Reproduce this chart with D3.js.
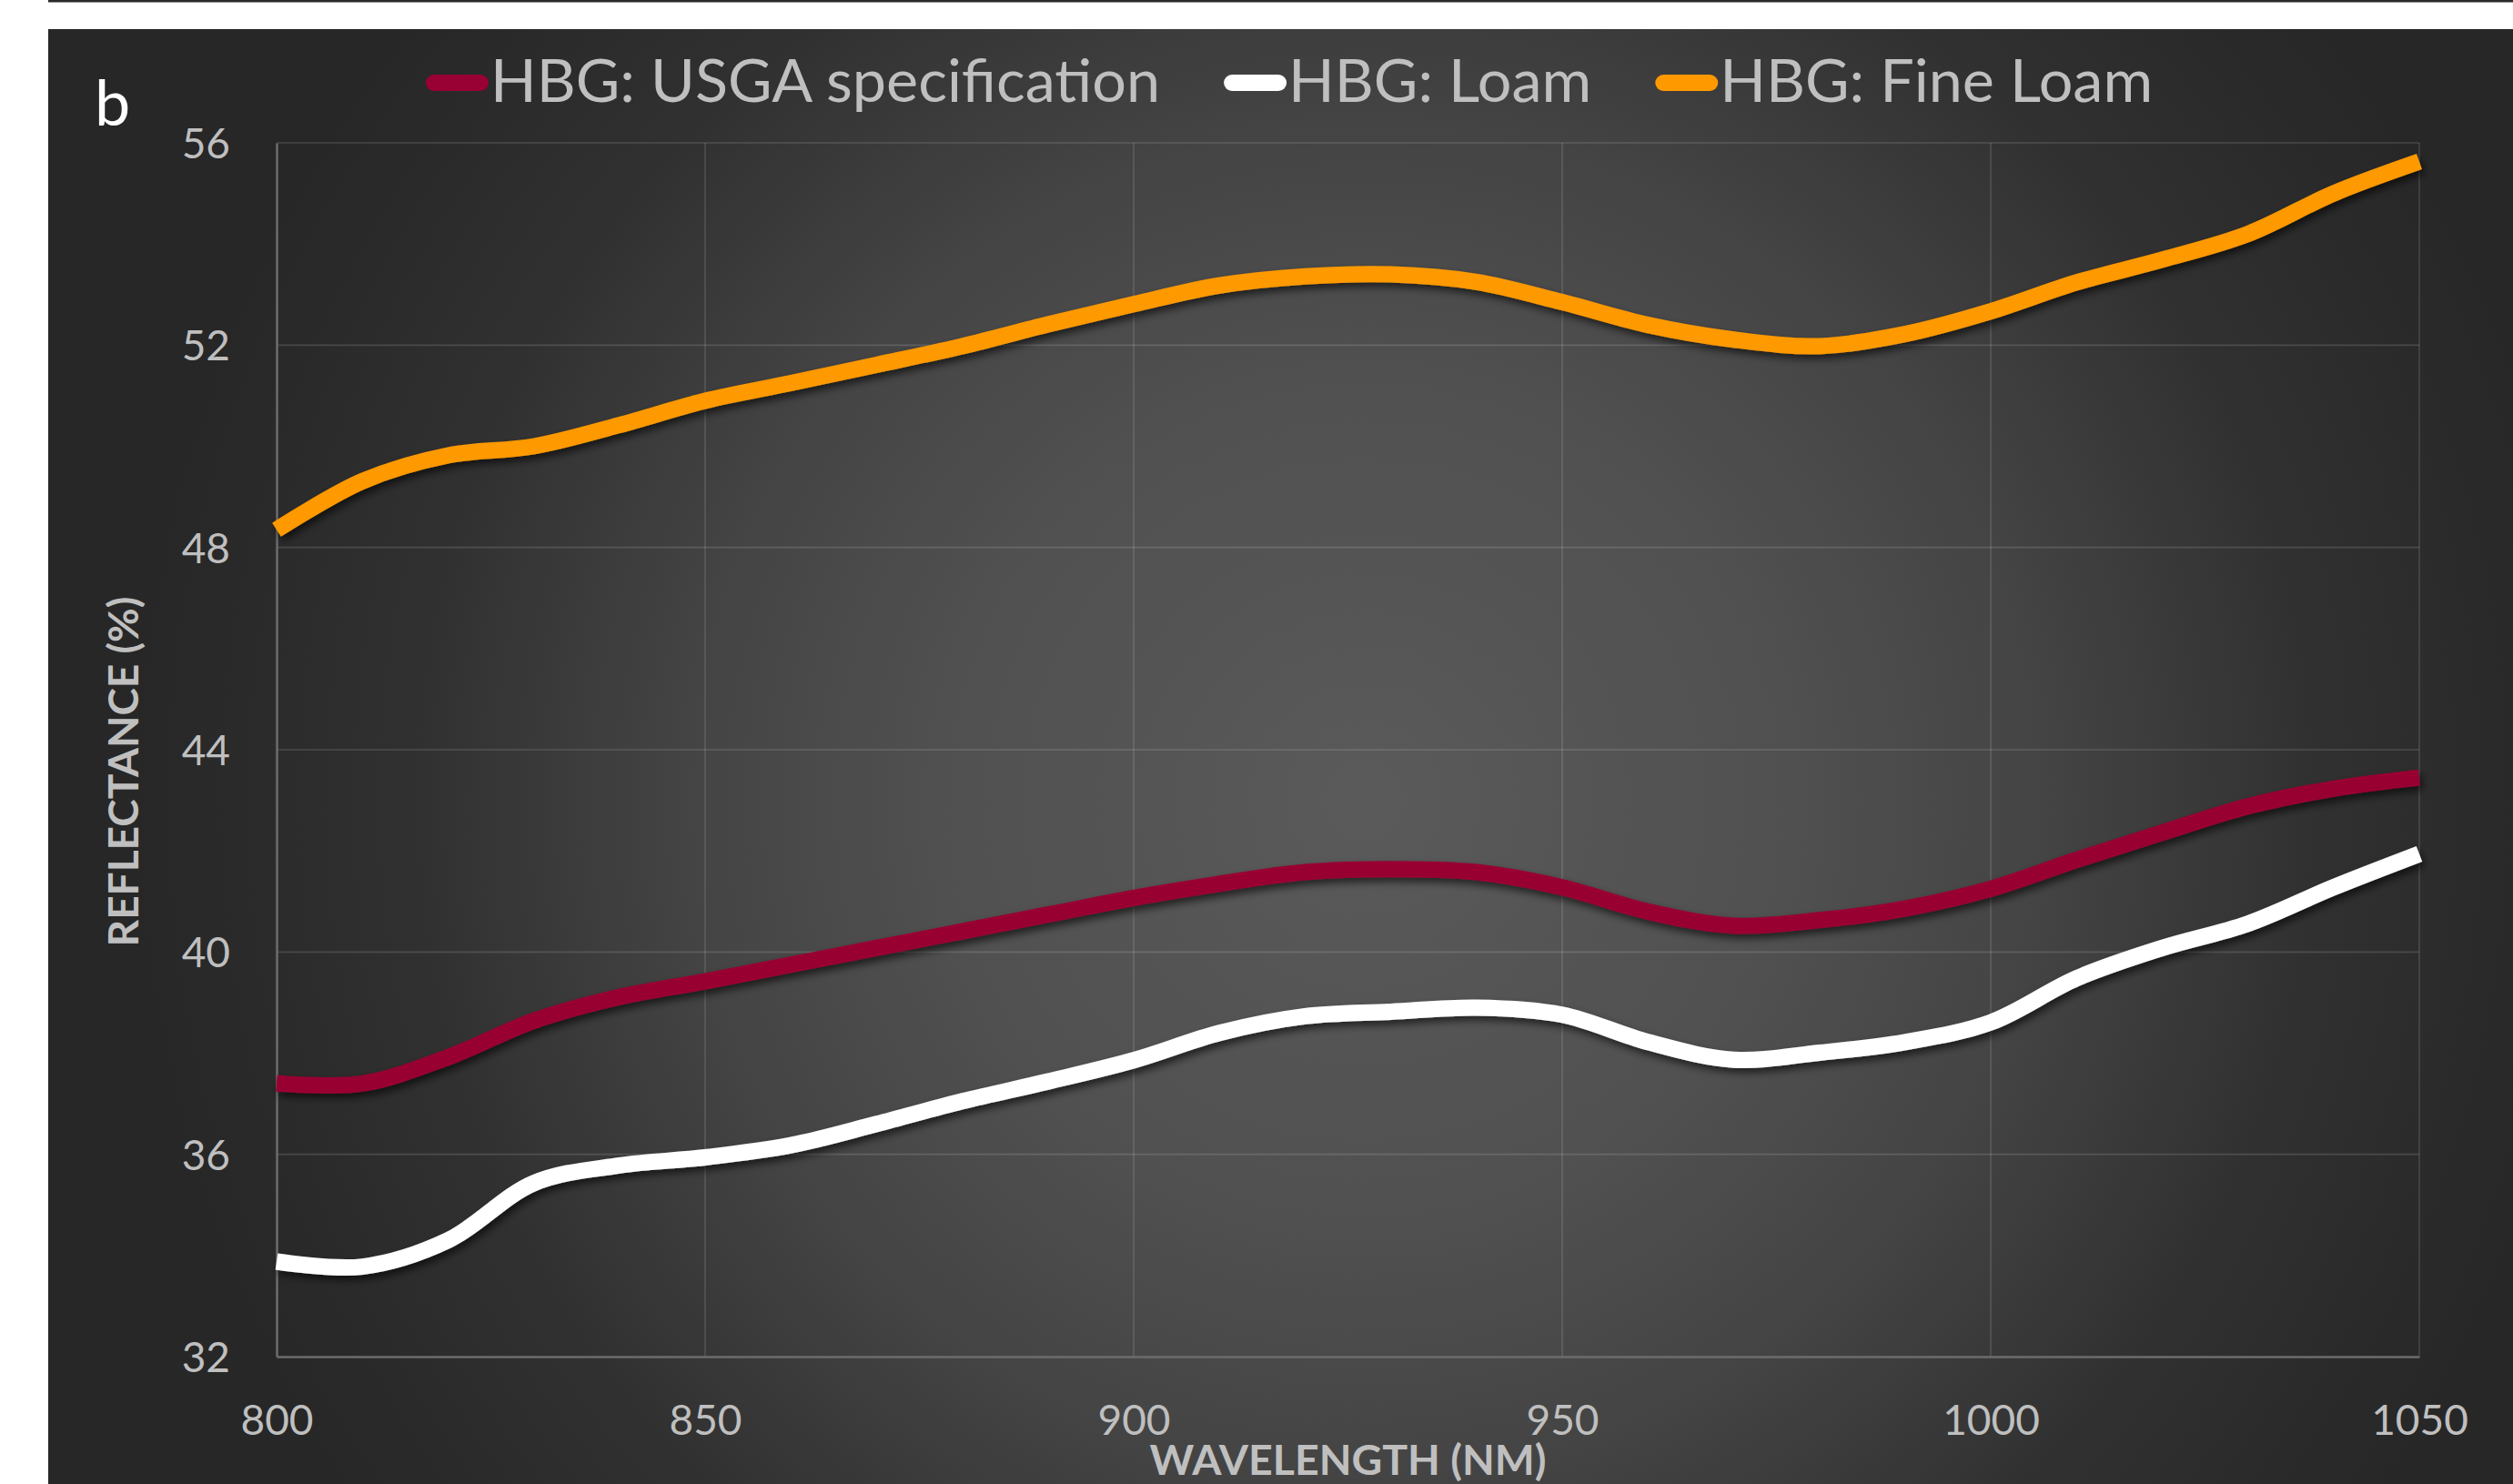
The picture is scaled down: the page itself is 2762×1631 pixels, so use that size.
<!DOCTYPE html>
<html>
<head>
<meta charset="utf-8">
<script src="https://cdn.jsdelivr.net/npm/d3@7"></script>
<style>
  html, body { margin: 0; padding: 0; background: #ffffff; }
  svg { display: block; }
</style>
</head>
<body>
<svg id="chart" width="2762" height="1631"></svg>
<script>
// Reflectance spectra (%) of three root-zone mixes, 800–1050 nm
const wavelengths = [800, 810, 820, 830, 840, 850, 860, 870, 880, 890, 900, 910, 920,
                     930, 940, 950, 960, 970, 980, 990, 1000, 1010, 1020, 1030, 1040, 1050];
const usgaSpec = [37.40, 37.40, 37.92, 38.64, 39.11, 39.42, 39.75, 40.08, 40.41, 40.74, 41.07, 41.35, 41.58,
                  41.64, 41.58, 41.28, 40.80, 40.52, 40.63, 40.86, 41.25, 41.82, 42.36, 42.88, 43.23, 43.45];
const loam     = [33.88, 33.78, 34.30, 35.43, 35.78, 35.94, 36.18, 36.60, 37.05, 37.44, 37.86, 38.40, 38.73,
                  38.82, 38.90, 38.76, 38.22, 37.87, 38.01, 38.22, 38.61, 39.48, 40.08, 40.56, 41.28, 41.94];
const fineLoam = [48.35, 49.31, 49.82, 50.00, 50.42, 50.90, 51.25, 51.61, 51.98, 52.41, 52.81, 53.18, 53.36,
                  53.40, 53.25, 52.85, 52.40, 52.11, 51.98, 52.22, 52.67, 53.24, 53.69, 54.20, 55.00, 55.63];
const seriesNames = ["HBG: USGA specification", "HBG: Loam", "HBG: Fine Loam"];
const xTicks = [800, 850, 900, 950, 1000, 1050];
const yTicks = [32, 36, 40, 44, 48, 52, 56];
const panelLetter = "b";
const xTitle = "WAVELENGTH (NM)";
const yTitle = "REFLECTANCE (%)";

// Styling
const seriesColors = ["#990033", "#ffffff", "#ff9900"];
const textColor = "#bfbfbf";
const fontFamily = "Lato, 'Open Sans', sans-serif";

const svg = d3.select("#chart");
const W = 2762, H = 1631;
const panel = { x: 53, y: 32 };
const plot = { left: 304, right: 2659, top: 157, bottom: 1491 };

const defs = svg.append("defs");
const grad = defs.append("radialGradient")
  .attr("id", "bgGrad")
  .attr("gradientUnits", "userSpaceOnUse")
  .attr("cx", 1500).attr("cy", 880).attr("r", 1350);
[[0, "#5a5a5a"], [0.35, "#505050"], [0.55, "#444444"], [0.78, "#303030"], [1, "#272727"]]
  .forEach(([o, c]) => grad.append("stop").attr("offset", o).attr("stop-color", c));

const shadow = defs.append("filter").attr("id", "lineShadow")
  .attr("x", "-5%").attr("y", "-20%").attr("width", "110%").attr("height", "140%");
shadow.append("feDropShadow")
  .attr("dx", 3).attr("dy", 5).attr("stdDeviation", 4)
  .attr("flood-color", "#000").attr("flood-opacity", 0.6);

// Panel background with thin rule above it
svg.append("rect").attr("x", panel.x).attr("y", 0).attr("width", W - panel.x).attr("height", 2.5)
  .attr("fill", "#2a2a2a");
svg.append("rect").attr("x", panel.x).attr("y", panel.y)
  .attr("width", W - panel.x).attr("height", H - panel.y)
  .attr("fill", "url(#bgGrad)");

const x = d3.scaleLinear().domain([800, 1050]).range([plot.left, plot.right]);
const y = d3.scaleLinear().domain([32, 56]).range([plot.bottom, plot.top]);

// Gridlines
const grid = svg.append("g");
grid.selectAll("line.h").data(yTicks.slice(1)).join("line")
  .attr("x1", plot.left).attr("x2", plot.right)
  .attr("y1", d => y(d)).attr("y2", d => y(d))
  .attr("stroke", "rgba(255,255,255,0.14)").attr("stroke-width", 1.6);
grid.selectAll("line.v").data(xTicks.slice(1)).join("line")
  .attr("y1", plot.top).attr("y2", plot.bottom)
  .attr("x1", d => x(d)).attr("x2", d => x(d))
  .attr("stroke", "rgba(255,255,255,0.14)").attr("stroke-width", 1.6);

// Axes
const xAxis = svg.append("g").attr("transform", `translate(0,${plot.bottom})`)
  .call(d3.axisBottom(x).tickValues(xTicks).tickSize(0).tickPadding(86).tickFormat(d3.format("d")));
const yAxis = svg.append("g").attr("transform", `translate(${plot.left},0)`)
  .call(d3.axisLeft(y).tickValues(yTicks).tickSize(0).tickPadding(51).tickFormat(d3.format("d")));
[xAxis, yAxis].forEach(g => {
  g.select(".domain").attr("stroke", "#6c6c6c").attr("stroke-width", 2.5);
  g.selectAll("text").attr("fill", textColor).attr("font-family", fontFamily)
    .attr("font-size", 46);
});
xAxis.selectAll("text").attr("dy", 0);
yAxis.selectAll("text").attr("dy", "0.36em");

// Series
const seriesValues = [usgaSpec, loam, fineLoam];
const line = d3.line()
  .x((d, i) => x(wavelengths[i]))
  .y(d => y(d))
  .curve(d3.curveCatmullRom.alpha(0.5));
svg.append("g").attr("filter", "url(#lineShadow)")
  .selectAll("path").data(seriesValues).join("path")
  .attr("d", line)
  .attr("fill", "none")
  .attr("stroke", (d, i) => seriesColors[i])
  .attr("stroke-width", 18)
  .attr("stroke-linejoin", "round");

// Axis titles
svg.append("text")
  .attr("x", (plot.left + plot.right) / 2).attr("y", 1621)
  .attr("text-anchor", "middle")
  .attr("fill", textColor).attr("font-family", fontFamily)
  .attr("font-weight", "bold").attr("font-size", 46.5)
  .text(xTitle);
svg.append("text")
  .attr("transform", "translate(152,848) rotate(-90)")
  .attr("text-anchor", "middle")
  .attr("fill", textColor).attr("font-family", fontFamily)
  .attr("font-weight", "bold").attr("font-size", 46)
  .text(yTitle);

// Panel letter
svg.append("text")
  .attr("x", 104).attr("y", 138)
  .attr("fill", "#ffffff").attr("font-family", fontFamily)
  .attr("font-size", 70)
  .text(panelLetter);

// Legend
const legend = svg.append("g");
let lx = 468;
seriesNames.forEach((name, i) => {
  legend.append("line")
    .attr("x1", lx + 9).attr("x2", lx + 60)
    .attr("y1", 91).attr("y2", 91)
    .attr("stroke", seriesColors[i]).attr("stroke-width", 18)
    .attr("stroke-linecap", "round");
  const t = legend.append("text")
    .attr("x", lx + 71).attr("y", 112)
    .attr("fill", textColor).attr("font-family", fontFamily)
    .attr("font-size", 66.5)
    .text(name);
  lx = lx + 71 + t.node().getComputedTextLength() + 70;
});
</script>
</body>
</html>
